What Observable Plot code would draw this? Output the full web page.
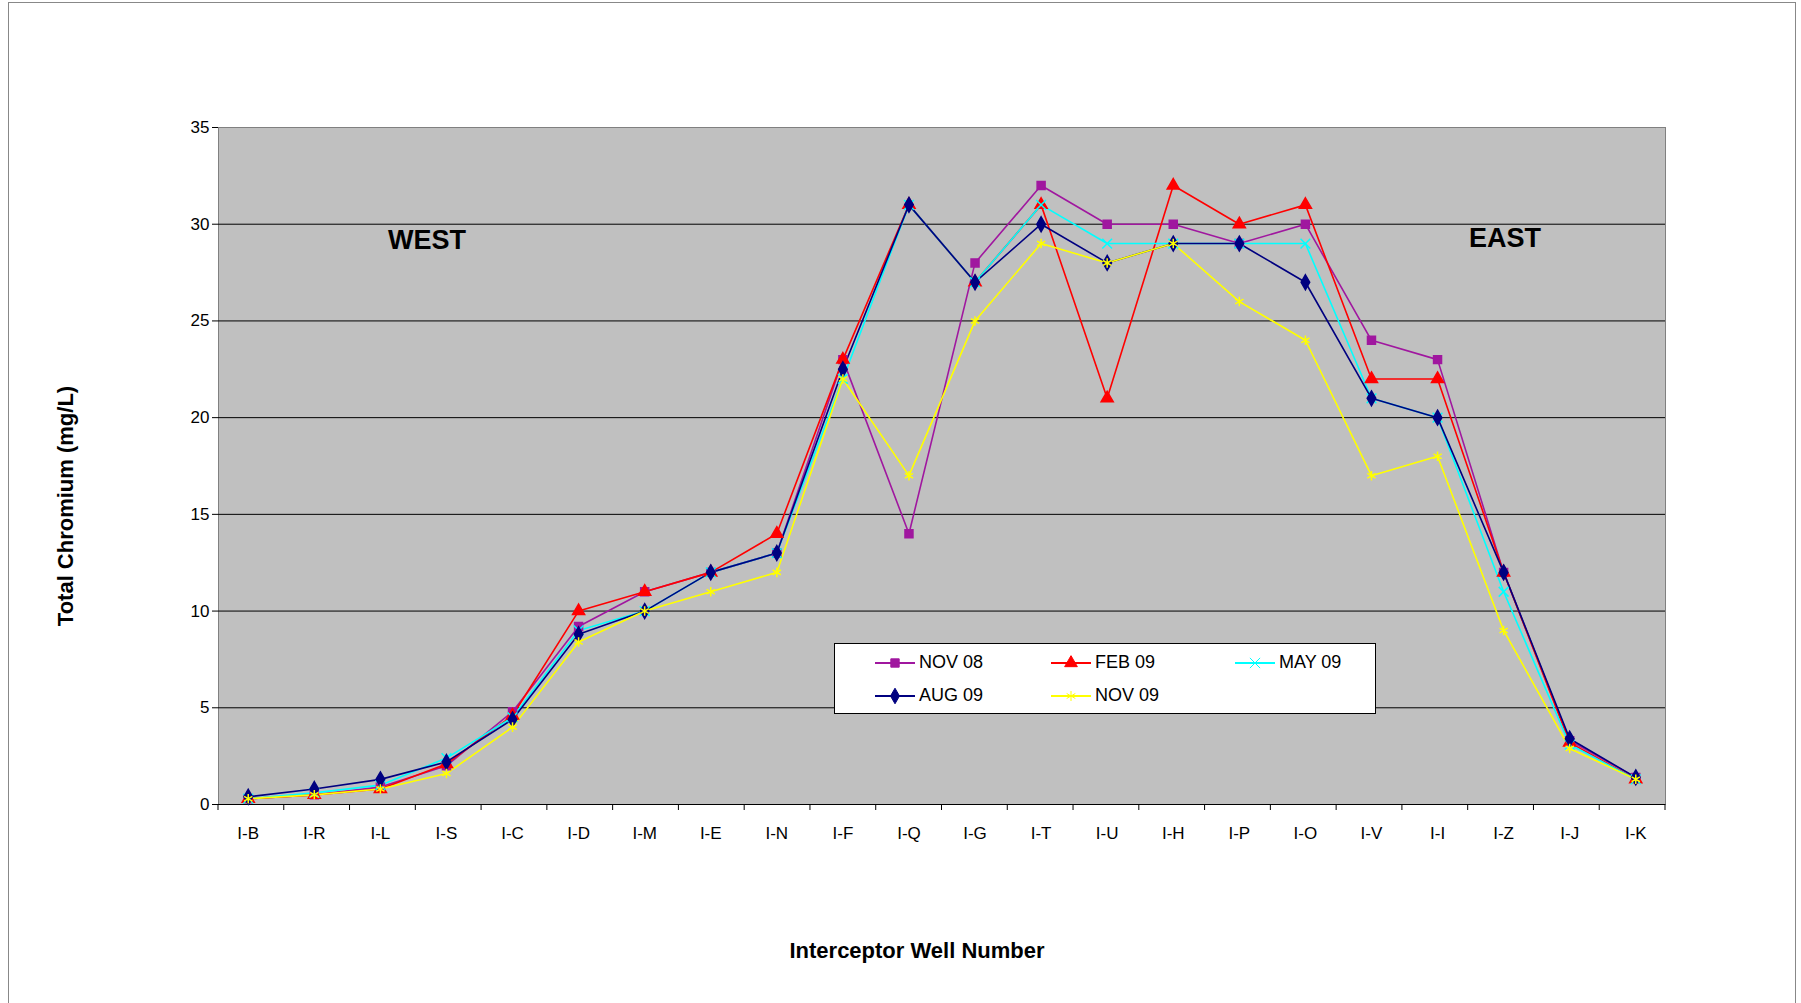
<!DOCTYPE html>
<html><head><meta charset="utf-8">
<script src="https://cdn.jsdelivr.net/npm/d3@7"></script>
<script src="https://cdn.jsdelivr.net/npm/@observablehq/plot@0.6"></script>
<style>
body{margin:0;background:#fff;font-family:Arial,"Liberation Sans",sans-serif}
#wrap{position:relative;width:1801px;height:1003px}
#frame{position:absolute;left:8px;top:2px;width:1786px;height:1010px;border:1px solid #888}
.lbl{position:absolute;font-weight:bold;font-size:27px}
#legend{position:absolute;left:834px;top:643px;width:540px;height:69px;background:#fff;border:1px solid #000;font-size:18px}
.it{position:absolute;display:flex;align-items:center;gap:4px}
</style></head><body>
<div id="wrap"><div id="frame"></div><div id="chart"></div>
<div class="lbl" style="left:388px;top:225px">WEST</div>
<div class="lbl" style="left:1469px;top:223px">EAST</div>
<div id="legend"></div>
</div>
<script>
const wells = ["I-B","I-R","I-L","I-S","I-C","I-D","I-M","I-E","I-N","I-F","I-Q","I-G","I-T","I-U","I-H","I-P","I-O","I-V","I-I","I-Z","I-J","I-K"]
const nov08 = [0.3,0.5,0.9,2,4.8,9.2,11,12,13,23,14,28,32,30,30,29,30,24,23,12,3.3,1.4]
const feb09 = [0.3,0.5,0.8,2.1,4.6,10,11,12,14,23,31,27,31,21,32,30,31,22,22,12,3.2,1.3]
const may09 = [0.3,0.6,1.0,2.4,4.5,9,10,12,13,22,31,27,31,29,29,29,29,21,20,11,3.1,1.3]
const aug09 = [0.4,0.8,1.3,2.2,4.4,8.8,10,12,13,22.5,31,27,30,28,29,29,27,21,20,12,3.4,1.4]
const nov09 = [0.3,0.5,0.8,1.6,4,8.4,10,11,12,22,17,25,29,28,29,26,24,17,18,9,2.9,1.3]

const series = [
  {name:"NOV 08", vals:nov08, color:"#A0179F", sym:"square"},
  {name:"FEB 09", vals:feb09, color:"#FF0000", sym:"triangle"},
  {name:"MAY 09", vals:may09, color:"#00FFFF", sym:"times"},
  {name:"AUG 09", vals:aug09, color:"#000080", sym:"diamond"},
  {name:"NOV 09", vals:nov09, color:"#FFFF00", sym:"asterisk"},
]
const rows = series.flatMap(s => s.vals.map((v,i) => ({well:wells[i], v, s:s.name})))

const chart = Plot.plot({
  width:1801, height:1003,
  marginLeft:218, marginTop:127, marginRight:136, marginBottom:199,
  style:{fontSize:"17px", fontFamily:"Arial, 'Liberation Sans', sans-serif", background:"transparent"},
  x:{type:"point", domain:wells, padding:0.45, round:false, label:null, tickSize:0, tickPadding:22},
  y:{domain:[0,35], ticks:d3.range(0,36,5), label:null, tickSize:6, tickPadding:8},
  color:{domain:series.map(s=>s.name), range:series.map(s=>s.color)},
  symbol:{domain:series.map(s=>s.name), range:series.map(s=>s.sym)},
  marks:[
    Plot.frame({fill:"#C0C0C0", stroke:"#808080"}),
    Plot.gridY(d3.range(5,35,5), {stroke:"#000", strokeOpacity:1}),
    Plot.ruleY([0], {stroke:"#000"}),
    Plot.axisY({ticks:d3.range(0,36,5), tickSize:6}),
    Plot.line(rows, {x:"well", y:"v", stroke:"s", z:"s", strokeWidth:1.6}),
    Plot.dot(rows, {x:"well", y:"v", stroke:"s", fill:"s", symbol:"s", r:4.5}),
    Plot.text(["Total Chromium (mg/L)"], {frameAnchor:"left", dx:-153, dy:40, rotate:-90, textAnchor:"middle", fontWeight:"bold", fontSize:22}),
    Plot.text(["Interceptor Well Number"], {frameAnchor:"bottom", dx:-25, dy:153, fontWeight:"bold", fontSize:22})
  ]
})
d3.select('#chart').append(() => chart)

// ticks between wells on x axis
const svg = d3.select(chart)
const step = (1665-218)/wells.length
for (let i=0;i<=wells.length;i++){
  const px = 218 + i*step
  svg.append("line").attr("x1",px).attr("x2",px).attr("y1",804).attr("y2",810).attr("stroke","#000")
}

const leg = d3.select('#legend')
const pos = [[40,8],[216,8],[400,8],[40,41],[216,41]]
series.forEach((s,i) => {
  const it = leg.append("div").attr("class","it").style("left",pos[i][0]+"px").style("top",pos[i][1]+"px")
  const sv = it.append("svg").attr("width",40).attr("height",20)
  sv.append("line").attr("x1",0).attr("x2",40).attr("y1",10).attr("y2",10).attr("stroke",s.color).attr("stroke-width",2)
  const sym = {square:d3.symbolSquare,triangle:d3.symbolTriangle,times:d3.symbolTimes,diamond:d3.symbolDiamond,asterisk:d3.symbolAsterisk}[s.sym]
  sv.append("path").attr("d",d3.symbol(sym,70)()).attr("transform","translate(20,10)").attr("fill",s.color).attr("stroke",s.color)
  it.append("span").text(s.name)
})
</script></body></html>
